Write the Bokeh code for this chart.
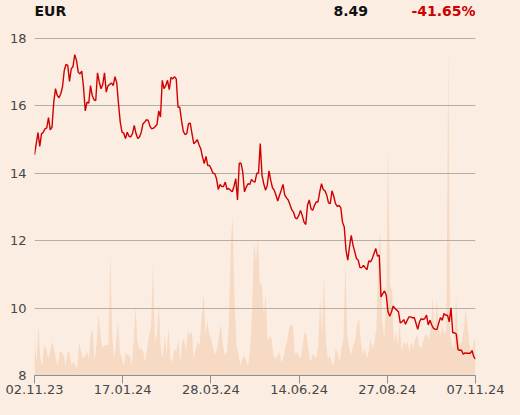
import numpy as np
from bokeh.plotting import figure
from bokeh.models import Range1d, FixedTicker, Label
from bokeh.embed import file_html
from bokeh.resources import INLINE

# ---------------- data ----------------
currency = "EUR"
last_price = "8.49"
change_pct = "-41.65%"

tick_labels = ["02.11.23", "17.01.24", "28.03.24", "14.06.24", "27.08.24", "07.11.24"]
y_ticks = [8, 10, 12, 14, 16, 18]

price_nov_jan = [
    14.55, 14.88, 15.21, 14.80, 15.17, 15.22, 15.32, 15.35, 15.65, 15.29,
    15.37, 16.11, 16.51, 16.31, 16.24, 16.36, 16.56, 17.05, 17.23, 17.20,
    16.73, 17.10, 17.17, 17.52, 17.35, 17.00, 16.95, 17.03, 16.56, 15.85,
    16.11, 16.08, 16.60, 16.31, 16.18, 16.16, 16.98, 16.71, 16.51, 16.64,
    16.98, 16.41, 16.60, 16.64, 16.68, 16.60, 16.87, 16.68, 16.06, 15.52,
    15.22, 15.19, 15.03, 15.22, 15.10, 15.08, 15.18, 15.42, 15.18, 15.03,
    15.08, 15.22, 15.47, 15.52, 15.59, 15.57, 15.39, 15.32, 15.34, 15.39,
    15.45, 15.85, 15.67, 16.76, 16.51, 16.60, 16.76, 16.48, 16.85, 16.80,
    16.87,
]
price_mar_jul = [
    16.80, 15.96, 15.96, 15.57, 15.25, 15.15, 15.18, 15.47, 15.49, 15.18,
    14.88, 14.93, 15.00, 14.85, 14.73, 14.48, 14.29, 14.50, 14.23, 14.23,
    14.13, 14.00, 13.99, 13.84, 13.52, 13.67, 13.61, 13.61, 13.74, 13.52,
    13.55, 13.50, 13.45, 13.61, 13.84, 13.21, 14.30, 14.30, 14.04, 13.45,
    13.59, 13.69, 13.67, 13.82, 13.76, 13.74, 14.00, 14.00, 14.88, 13.94,
    13.69, 13.50, 13.64, 14.07, 13.79, 13.57, 13.50, 13.35, 13.18, 13.35,
    13.50, 13.67, 13.35, 13.27, 13.21, 13.07, 12.92, 12.85, 12.68, 12.65,
    12.75, 12.90, 12.75, 12.55, 12.48, 13.05, 13.21, 12.95, 12.90, 13.05,
    13.15, 13.15, 13.45, 13.69, 13.52, 13.48, 13.35, 13.12, 13.10, 13.48,
    13.32, 13.10, 13.02, 13.05,
]
price_aug_nov = [
    12.98, 12.55, 12.41, 11.72, 11.42, 11.82, 12.16, 11.87, 11.67, 11.47,
    11.42, 11.20, 11.20, 11.27, 11.20, 11.14, 11.40, 11.37, 11.47, 11.62,
    11.77, 11.54, 11.57, 10.33, 10.43, 10.51, 10.38, 9.89, 9.76, 9.89,
    10.06, 9.99, 9.94, 9.89, 9.56, 9.59, 9.66, 9.52, 9.64, 9.74,
    9.74, 9.71, 9.72, 9.55, 9.37, 9.59, 9.69, 9.66, 9.69, 9.79,
    9.50, 9.64, 9.50, 9.40, 9.37, 9.37, 9.56, 9.72, 9.64, 9.84,
    9.79, 9.79, 9.59, 10.01, 9.27, 9.27, 9.23, 8.77, 8.75, 8.75,
    8.63, 8.67, 8.66, 8.66, 8.66, 8.74, 8.56, 8.49,
]
price = price_nov_jan + price_mar_jul + price_aug_nov

# traded volume (relative units, 100 = height of the 8..18 band)
volume = [
    12, 4, 15, 5, 3, 9, 8, 5, 7, 10, 8, 5, 3, 7, 7, 6, 3, 7, 7, 3,
    4, 3, 2, 10, 7, 5, 6, 7, 5, 13, 13, 4, 10, 18, 12, 8, 9, 9, 9, 36.5,
    12, 5, 10, 16, 7, 5, 3, 7, 6, 6, 3, 10, 20.5, 10, 8, 8, 7, 4, 8, 12,
    14.5, 33, 10, 12, 21, 8, 5, 12, 6, 14, 5, 4, 8, 7, 11, 4, 10, 11, 7, 13.5,
    12, 13, 5, 8, 10, 9, 17, 24.5, 12, 16, 12, 11, 8, 6, 8, 12, 15, 9, 6, 7,
    15, 39, 47.5, 22, 9, 6, 3, 5, 6, 4, 3, 8, 19, 40, 34, 41, 27, 27, 18, 24,
    10, 11.5, 11, 6, 5, 6, 7, 4, 5, 8, 10, 14, 15, 15, 6, 7, 6, 5, 9, 13,
    12, 8, 4, 6, 6, 5, 9, 23.5, 12, 30, 10, 5, 6, 4, 3, 8, 7, 4, 8, 11,
    34, 12, 8, 6, 9, 10, 15, 17, 10, 6, 8, 5, 7, 11, 8, 10, 14, 35, 43, 16,
    11, 22, 68, 27, 25, 10, 13, 9, 16, 7, 10, 9, 10, 7, 10, 8, 11, 12, 9, 8,
    10, 12, 12, 11, 14, 23.5, 12, 23, 14, 12, 15, 12, 14, 97, 12, 9, 8, 23.5, 12, 9,
    10, 14, 20, 14, 9, 6, 10, 11,
]

# ---------------- figure ----------------
N = len(price)
x = np.arange(N)
xv = np.linspace(0, N - 1, len(volume))
x_ticks = [k * (N - 1) / 5 for k in range(6)]

BG = "#fbede2"
FONT = "DejaVu Sans"

W, H = 504, 399
B_LEFT, B_RIGHT, B_TOP, B_BOTTOM = 34, 29, 0, 24
frame_h = H - B_TOP - B_BOTTOM
band_px = 337.0                      # pixels between 8 and 18
y_top = 8 + 10 * frame_h / band_px   # room above 18 for the header
vol_top = 100 * frame_h / band_px

p = figure(
    width=W, height=H, output_backend="svg", toolbar_location=None,
    x_range=Range1d(0, N - 1), y_range=Range1d(8, y_top),
    min_border_left=B_LEFT, min_border_right=B_RIGHT,
    min_border_top=B_TOP, min_border_bottom=B_BOTTOM,
)
p.extra_y_ranges = {"vol": Range1d(0, vol_top)}
p.background_fill_color = BG
p.border_fill_color = BG
p.outline_line_color = None

vol_r = p.varea(x=xv, y1=0, y2=volume, y_range_name="vol",
                fill_color="#f7dac4", fill_alpha=1.0)
vol_r.level = "image"

p.line(x, price, line_color="#d10000", line_width=1.4)

# grid
p.xgrid.visible = False
p.ygrid.ticker = FixedTicker(ticks=y_ticks)
p.ygrid.grid_line_color = "#b5ada7"
p.ygrid.grid_line_width = 1

# x axis
xa = p.xaxis[0]
xa.ticker = FixedTicker(ticks=x_ticks)
xa.major_label_overrides = {t: lab for t, lab in zip(x_ticks, tick_labels)}
xa.axis_line_color = "#8f8f8f"
xa.major_tick_line_color = "#8f8f8f"
xa.major_tick_out = 8
xa.major_tick_in = 0
xa.minor_tick_line_color = None
xa.major_label_standoff = 1
xa.major_label_text_font = FONT
xa.major_label_text_font_size = "13px"
xa.major_label_text_color = "#474747"

# y axis
ya = p.yaxis[0]
ya.ticker = FixedTicker(ticks=y_ticks)
ya.axis_line_color = None
ya.major_tick_line_color = None
ya.major_tick_out = 0
ya.major_tick_in = 0
ya.minor_tick_line_color = None
ya.major_label_standoff = 8
ya.major_label_text_font = FONT
ya.major_label_text_font_size = "13px"
ya.major_label_text_color = "#474747"

# header, inside the top margin of the chart area
px_per_x = (W - B_LEFT - B_RIGHT) / (N - 1)
head_y = y_top - 10 * 10 / band_px
for txt, left_px, col in [(currency, 0, "#111111"), (last_price, 299, "#111111"),
                          (change_pct, 377, "#cc0000")]:
    p.add_layout(Label(x=left_px / px_per_x, y=head_y, text=txt,
                       text_font=FONT, text_font_size="14px", text_font_style="bold",
                       text_color=col, text_baseline="middle", text_align="left"))

html = file_html(p, INLINE)
html = html.replace("</head>", "<style>body{background-color:%s;}</style></head>" % BG, 1)
open("out.html", "w").write(html)
